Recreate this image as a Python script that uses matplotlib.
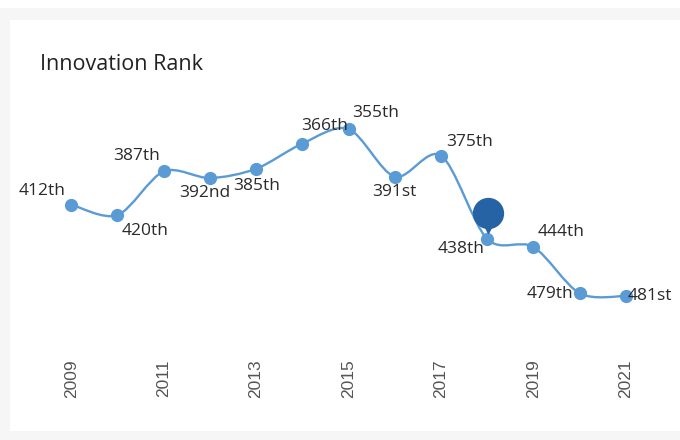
import numpy as np
import matplotlib.pyplot as plt
from matplotlib.path import Path
from matplotlib.patches import PathPatch, Rectangle
from matplotlib.transforms import ScaledTranslation

years = [2009, 2010, 2011, 2012, 2013, 2014, 2015, 2016, 2017, 2018, 2019, 2020, 2021]
ranks = [412, 420, 387, 392, 385, 366, 355, 391, 375, 438, 444, 479, 481]
labels = ["412th", "420th", "387th", "392nd", "385th", "366th", "355th",
          "391st", "375th", "438th", "444th", "479th", "481st"]
tick_years = [2009, 2011, 2013, 2015, 2017, 2019, 2021]
highlight_year = 2018

# label offsets in pixels (dx, dy) and horizontal alignment
offsets = [(-6, 14, "right"), (4, -16, "left"), (-4, 15, "right"), (-5, -15, "center"),
           (1, -17, "center"), (22, 18, "center"), (4, 16, "left"), (0, -15, "center"),
           (5, 14, "left"), (-3, -10, "right"), (4, 15, "left"), (-6, -1, "right"),
           (2, 0, "left")]

line_col = "#5b9bd5"
dark_col = "#2563a4"

fig = plt.figure(figsize=(6.8, 4.4), dpi=100)
fig.patch.set_facecolor("white")
# grey frame + white card
fig.patches.append(Rectangle((0, 0), 1, 1 - 8 / 440, transform=fig.transFigure,
                             facecolor="#f6f6f6", edgecolor="none", zorder=-2))
fig.patches.append(Rectangle((10 / 680, 9 / 440), 1, (431 - 20) / 440, transform=fig.transFigure,
                             facecolor="white", edgecolor="none", zorder=-1))

ax = fig.add_axes([48.1 / 680, 105.6 / 440, (649 - 48.1) / 680, (334.4 - 95.9) / 440])
ax.set_facecolor("none")
ax.set_xlim(2008.5, 2021.5)
ax.set_ylim(510, 330)

# smooth curve (Catmull-Rom -> cubic bezier)
x = np.array(years, float)
y = np.array(ranks, float)
verts = [(x[0], y[0])]
codes = [Path.MOVETO]
t = 0.45
for i in range(len(x) - 1):
    x0, y0 = (x[i - 1], y[i - 1]) if i > 0 else (x[i], y[i])
    x3, y3 = (x[i + 2], y[i + 2]) if i + 2 < len(x) else (x[i + 1], y[i + 1])
    c1 = (x[i] + (x[i + 1] - x0) * t / 3, y[i] + (y[i + 1] - y0) * t / 3)
    c2 = (x[i + 1] - (x3 - x[i]) * t / 3, y[i + 1] - (y3 - y[i]) * t / 3)
    verts += [c1, c2, (x[i + 1], y[i + 1])]
    codes += [Path.CURVE4] * 3
ax.add_patch(PathPatch(Path(verts, codes), facecolor="none", edgecolor=line_col, lw=1.7, zorder=2))
ax.plot(years, ranks, "o", color=line_col, ms=8.5, zorder=3)

# highlighted marker (pin shape)
hi = years.index(highlight_year)
ax.plot([years[hi]], [ranks[hi]], marker="o", ms=21.5, color=dark_col, zorder=4,
        transform=ax.transData + ScaledTranslation(0.01, 26 / 100, fig.dpi_scale_trans))
ax.plot([years[hi]], [ranks[hi]], marker="v", ms=8, color=dark_col, zorder=4,
        transform=ax.transData + ScaledTranslation(0.01, 12 / 100, fig.dpi_scale_trans))

for xv, yv, lab, (dx, dy, ha) in zip(years, ranks, labels, offsets):
    ax.annotate(lab, (xv, yv), xytext=(dx, dy), textcoords="offset pixels",
                ha=ha, va="center", fontsize=12.5, family=["Open Sans", "DejaVu Sans"],
                color="#2a2a2a", zorder=5)

ax.set_xticks(tick_years)
ax.set_xticklabels([str(v) for v in tick_years], rotation=90, fontsize=12.5,
                   family=["Liberation Sans", "DejaVu Sans"], color="#555555")
ax.tick_params(axis="x", length=0, pad=18)
ax.set_yticks([])
for s in ax.spines.values():
    s.set_visible(False)

fig.text(40 / 680, 1 - 65 / 440, "Innovation Rank", fontsize=15.5, va="center",
         family=["Open Sans", "DejaVu Sans"], color="#222222")

fig.savefig("out.png", dpi=100)
